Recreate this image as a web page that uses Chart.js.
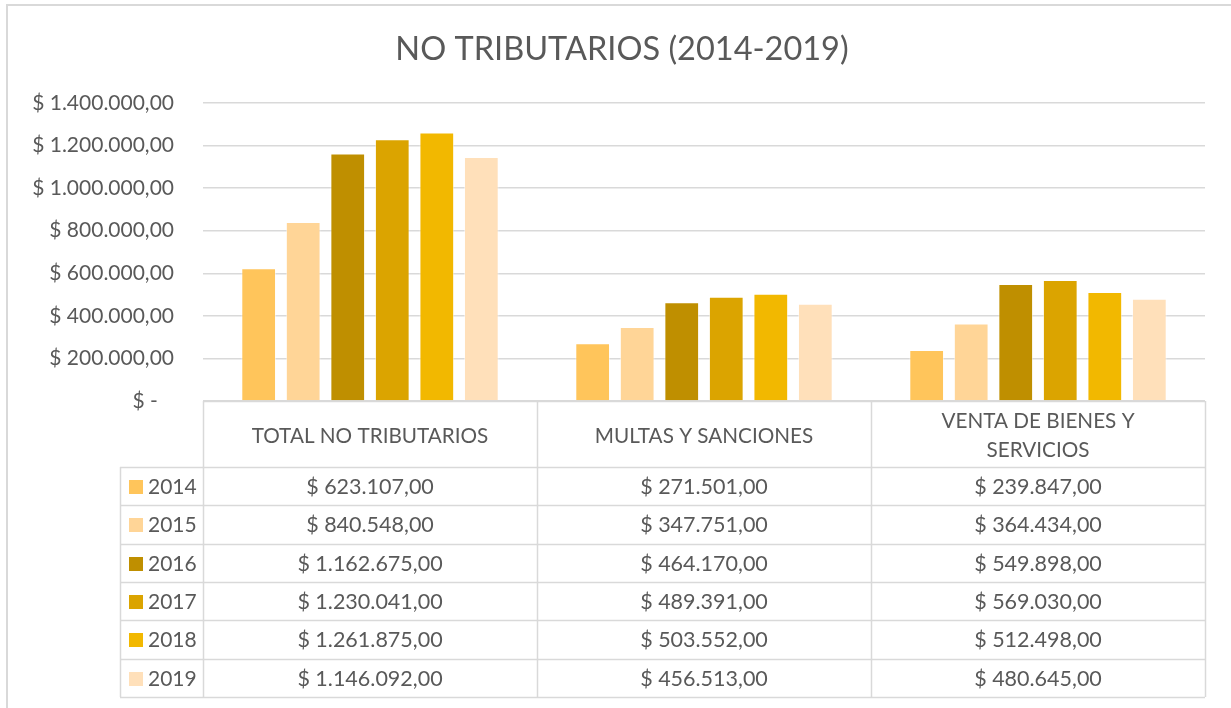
<!DOCTYPE html>
<html>
<head>
<meta charset="utf-8">
<script src="https://cdn.jsdelivr.net/npm/chart.js@4.4.1/dist/chart.umd.min.js"></script>
<style>
  html, body { margin: 0; padding: 0; background: #ffffff; }
  #wrap { width: 1231px; height: 708px; position: relative; }
</style>
</head>
<body>
<div id="wrap"><canvas id="c" width="1231" height="708"></canvas></div>
<script>
const titleText = 'NO TRIBUTARIOS (2014-2019)';
const categories = [['TOTAL NO TRIBUTARIOS'], ['MULTAS Y SANCIONES'], ['VENTA DE BIENES Y', 'SERVICIOS']];
const years = ['2014', '2015', '2016', '2017', '2018', '2019'];
const values2014 = [623107, 271501, 239847];
const values2015 = [840548, 347751, 364434];
const values2016 = [1162675, 464170, 549898];
const values2017 = [1230041, 489391, 569030];
const values2018 = [1261875, 503552, 512498];
const values2019 = [1146092, 456513, 480645];
const seriesValues = [values2014, values2015, values2016, values2017, values2018, values2019];
const yMin = 0, yMax = 1400000, yStep = 200000;
const colors = ['#FFC55B', '#FFD597', '#BF8F00', '#DBA400', '#F2B800', '#FFE0BA'];

const FONT = 'Lato, "Open Sans", sans-serif';
const TEXT = '#595959';
const LINE = '#d9d9d9';

function fmtMoney(v) {
  if (v === 0) return '$ -   ';
  const s = Math.round(v).toString().replace(/\B(?=(\d{3})+(?!\d))/g, '.');
  return '$ ' + s + ',00';
}

const framePlugin = {
  id: 'frame',
  beforeDraw(chart) {
    const ctx = chart.ctx;
    ctx.save();
    ctx.fillStyle = '#ffffff';
    ctx.fillRect(0, 0, chart.width, chart.height);
    ctx.strokeStyle = LINE;
    ctx.lineWidth = 2;
    ctx.beginPath();
    ctx.moveTo(7, chart.height);
    ctx.lineTo(7, 5);
    ctx.lineTo(chart.width, 5);
    ctx.stroke();
    // title, centred over the whole chart frame
    ctx.fillStyle = TEXT;
    ctx.font = '32.5px ' + FONT;
    ctx.textAlign = 'center';
    ctx.textBaseline = 'middle';
    ctx.fillText(titleText, 622, 50);
    ctx.restore();
  }
};

const tablePlugin = {
  id: 'dataTable',
  afterDraw(chart) {
    const ctx = chart.ctx;
    const xs = chart.scales.x;
    const area = chart.chartArea;
    const n = categories.length;
    const colW = (area.right - area.left) / n;
    const top = area.bottom;
    const headerH = 66;
    const rowH = 38.33;
    const legendLeft = 120;
    const bottom = top + headerH + rowH * years.length;
    ctx.save();
    ctx.strokeStyle = LINE;
    ctx.lineWidth = 1.5;
    ctx.beginPath();
    for (let r = 0; r <= years.length; r++) {
      const y = Math.round(top + headerH + r * rowH) + 0.5;
      ctx.moveTo(legendLeft, y);
      ctx.lineTo(area.right, y);
    }
    ctx.moveTo(area.left, top + 0.5);
    ctx.lineTo(area.right, top + 0.5);
    for (let c = 0; c <= n; c++) {
      const x = Math.round(area.left + c * colW) + 0.5;
      ctx.moveTo(x, top);
      ctx.lineTo(x, bottom);
    }
    ctx.moveTo(legendLeft + 0.5, top + headerH);
    ctx.lineTo(legendLeft + 0.5, bottom);
    ctx.stroke();

    ctx.fillStyle = TEXT;
    ctx.textAlign = 'center';
    ctx.textBaseline = 'middle';
    ctx.font = '20.7px ' + FONT;
    categories.forEach((lines, i) => {
      const cx = xs.getPixelForValue(i);
      const lh = 29;
      const startY = top + headerH / 2 + 2 - (lines.length - 1) * lh / 2;
      lines.forEach((t, k) => ctx.fillText(t, cx, startY + k * lh));
    });
    years.forEach((yr, r) => {
      const cy = top + headerH + r * rowH + rowH / 2 + 1;
      ctx.fillStyle = colors[r];
      ctx.fillRect(129, Math.round(cy - 7), 14, 14);
      ctx.fillStyle = TEXT;
      ctx.textAlign = 'left';
      ctx.font = '21px ' + FONT;
      ctx.fillText(yr, 148, cy);
      ctx.textAlign = 'center';
      ctx.font = '21.5px ' + FONT;
      seriesValues[r].forEach((v, i) => {
        ctx.fillText(fmtMoney(v), xs.getPixelForValue(i), cy);
      });
    });
    ctx.restore();
  }
};

const datasets = years.map((yr, i) => ({
  label: yr,
  data: seriesValues[i],
  backgroundColor: colors[i],
  borderColor: 'rgba(255,255,255,0.5)',
  borderWidth: 1,
  categoryPercentage: 0.8,
  barPercentage: 0.78
}));

new Chart(document.getElementById('c'), {
  type: 'bar',
  data: { labels: categories.map(c => c.join(' ')), datasets },
  options: {
    responsive: false,
    animation: false,
    layout: { padding: { top: 103, right: 26, bottom: 307, left: 0 } },
    plugins: {
      legend: { display: false },
      tooltip: { enabled: false },
      title: { display: false }
    },
    scales: {
      x: { display: false },
      y: {
        min: yMin, max: yMax,
        afterFit(scale) { scale.width = 203; },
        border: { display: false },
        grid: { color: LINE, lineWidth: 1.5, drawTicks: false },
        ticks: {
          stepSize: yStep,
          padding: 29,
          color: TEXT,
          font: { family: FONT, size: 21 },
          callback: v => fmtMoney(v)
        }
      }
    }
  },
  plugins: [framePlugin, tablePlugin]
});
</script>
</body>
</html>
